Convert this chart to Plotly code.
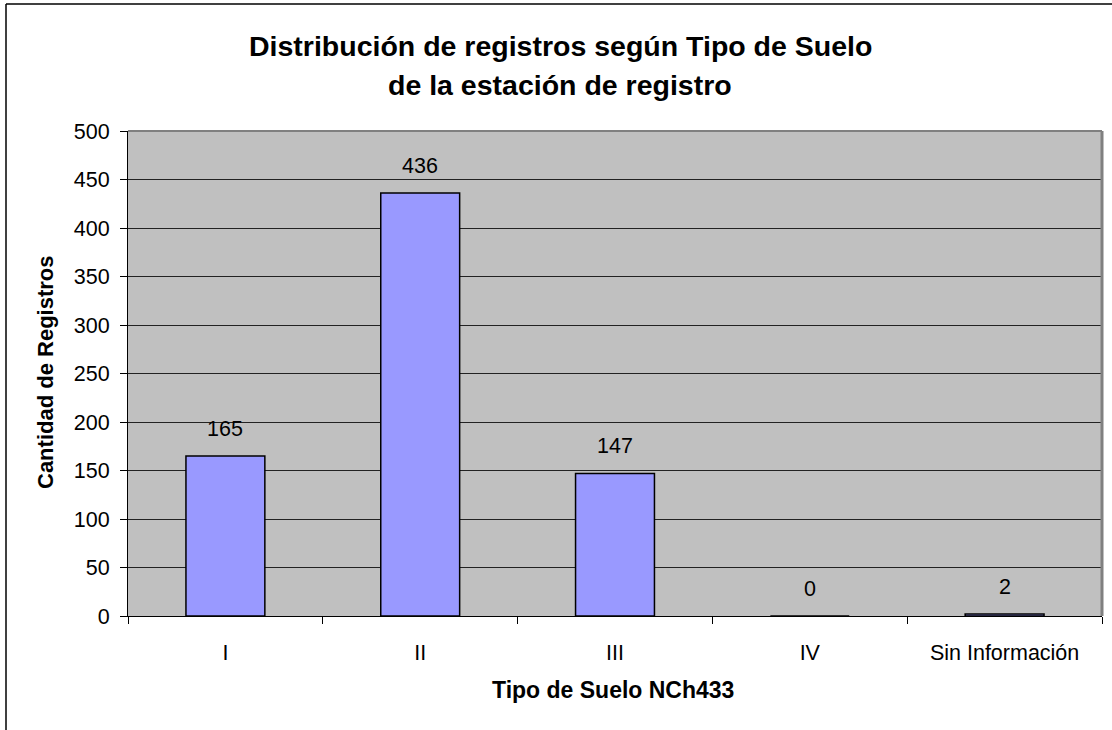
import plotly.graph_objects as go

categories = ["I", "II", "III", "IV", "Sin Información"]
values = [165, 436, 147, 0, 2]
y_ticks = [0, 50, 100, 150, 200, 250, 300, 350, 400, 450, 500]

W, H = 1112, 730
L, R, T, B = 128, 10, 131, 114
pw, ph = W - L - R, H - T - B

FAM = "Liberation Sans, Arial"
font = dict(family=FAM, size=21.5, color="black")

def px_x(x):
    return (x - L) / pw

def px_y(y):
    return 1 - (y - T) / ph

fig = go.Figure()
fig.add_trace(go.Bar(
    x=categories, y=values,
    marker=dict(color="#9999FF", line=dict(color="black", width=1.5)),
    width=0.405, cliponaxis=False,
))

annotations = []
for c, v in zip(categories, values):
    annotations.append(dict(
        x=c, y=v, xref="x", yref="y", text=str(v), showarrow=False,
        yanchor="bottom", yshift=13, font=font,
    ))
# title lines
for txt, yc in [("<b>Distribución de registros según Tipo de Suelo</b>", 46),
                ("<b>de la estación de registro</b>", 85.5)]:
    annotations.append(dict(x=0.5, xref="paper", y=px_y(yc), yref="paper",
                            text=txt, showarrow=False, xanchor="center", yanchor="middle",
                            xshift=560 - (L + pw / 2),
                            font=dict(family=FAM, size=28.5, color="black")))
# axis titles
annotations.append(dict(x=0.5, xref="paper", y=px_y(690), yref="paper",
                        text="<b>Tipo de Suelo NCh433</b>", showarrow=False,
                        xanchor="center", yanchor="middle", xshift=-2,
                        font=dict(family=FAM, size=23, color="black")))
annotations.append(dict(x=px_x(45), xref="paper", y=px_y(373), yref="paper",
                        text="<b>Cantidad de Registros</b>", showarrow=False,
                        xanchor="center", yanchor="middle", textangle=-90,
                        font=dict(family=FAM, size=22, color="black")))

fig.update_layout(
    width=W, height=H,
    margin=dict(l=L, r=R, t=T, b=B),
    paper_bgcolor="white", plot_bgcolor="#C0C0C0",
    showlegend=False,
    font=font,
    xaxis=dict(
        showgrid=False, showline=True, linecolor="black", linewidth=1,
        ticks="outside", ticklen=7, tickcolor="black", tickson="boundaries",
        tickfont=font, ticklabelstandoff=17,
    ),
    yaxis=dict(
        range=[0, 500], tickvals=y_ticks, showgrid=True, gridcolor="#222222", gridwidth=1,
        showline=True, linecolor="black", linewidth=1,
        ticks="outside", ticklen=7, tickcolor="black",
        tickfont=font, zeroline=False, ticklabelstandoff=6,
    ),
    annotations=annotations,
    shapes=[
        dict(type="line", xref="paper", yref="paper", x0=0, x1=1, y0=1, y1=1,
             line=dict(color="#808080", width=2)),
        dict(type="line", xref="paper", yref="paper", x0=1, x1=1, y0=0, y1=1,
             line=dict(color="#808080", width=3)),
        dict(type="line", xref="paper", yref="paper",
             x0=px_x(6), x1=px_x(6), y0=px_y(4), y1=px_y(H + 10),
             line=dict(color="black", width=1.5)),
        dict(type="line", xref="paper", yref="paper",
             x0=px_x(6), x1=px_x(W + 10), y0=px_y(4), y1=px_y(4),
             line=dict(color="black", width=1.5)),
    ],
)

fig.write_html("out.html", config={"displayModeBar": False},
               post_script="document.body.style.margin='0';document.body.style.overflow='hidden';")
